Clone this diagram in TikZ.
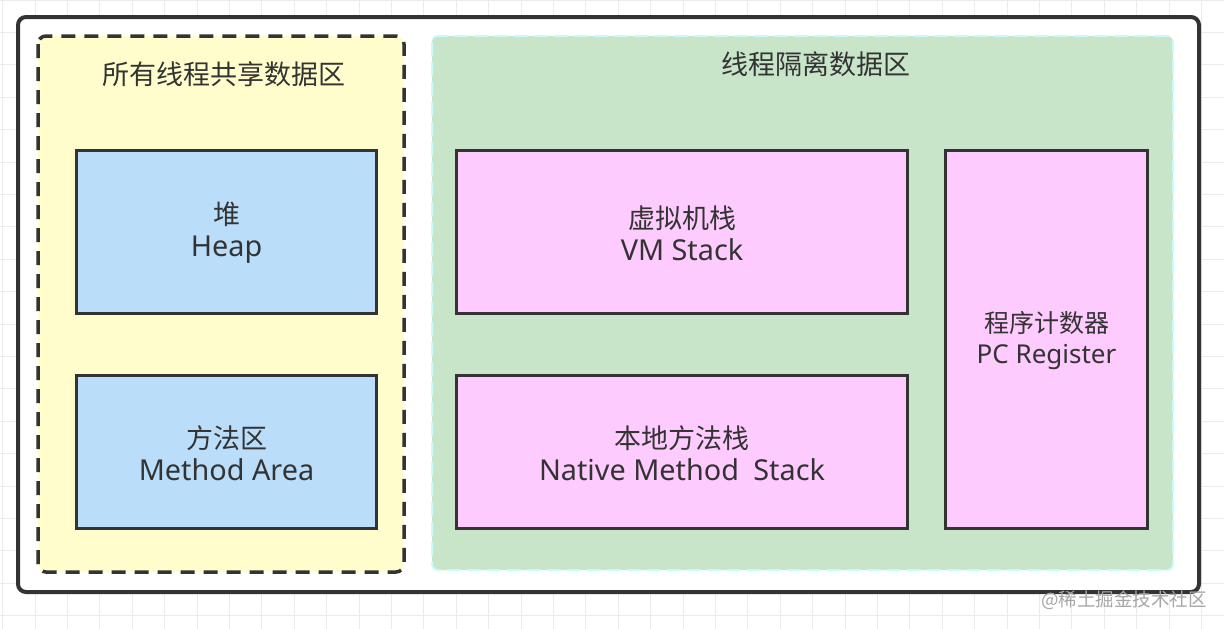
\documentclass[tikz,border=0pt]{standalone}
\usepackage{fontspec}
\setmainfont{Noto Sans CJK SC}
\newfontfamily\latinf{Noto Sans}
\newcommand{\latbig}{\latinf\fontsize{28.8}{32}\selectfont}
\newcommand{\latsmall}{\latinf\fontsize{26}{31}\selectfont}
\definecolor{gridc}{HTML}{EBEBEB}
\definecolor{edge}{HTML}{333333}
\definecolor{yel}{HTML}{FEFDCB}
\definecolor{grn}{HTML}{C8E5C9}
\definecolor{cyanb}{HTML}{C6FCF9}
\definecolor{blu}{HTML}{BADDFA}
\definecolor{pnk}{HTML}{FDCBFD}
\definecolor{txt}{HTML}{333333}
\tikzset{
  regionbox/.style={rounded corners=8pt},
  membox/.style={draw=edge, line width=3pt, anchor=north west, inner sep=0pt},
  lbl/.style={text=txt, font=\fontsize{27}{32}\selectfont, align=center},
  smalllbl/.style={text=txt, font=\fontsize{25}{31}\selectfont, align=center}
}
\begin{document}
\begin{tikzpicture}[x=1pt,y=-1pt]
\useasboundingbox (0,0) rectangle (1224,629);
\fill[white] (0,0) rectangle (1224,629);
% background grid
\foreach \i in {0,...,37} {
  \draw[gridc, line width=1pt] ({2.6+32.4*\i},0) -- ({2.6+32.4*\i},629);
}
\foreach \j in {0,...,19} {
  \draw[gridc, line width=1pt] (0,{32.4*\j}) -- (1224,{32.4*\j});
}
% outer frame
\draw[regionbox, draw=edge, fill=white, line width=4pt] (18,17) rectangle (1199,592);
% shared region
\draw[regionbox, draw=edge, fill=yel, line width=3.5pt, dash pattern=on 14pt off 9pt] (38,36) rectangle (404,572);
% isolated region
\draw[rounded corners=6pt, draw=cyanb, fill=grn, line width=2pt, dash pattern=on 14pt off 6pt] (432,36) rectangle (1173,570);
\node[lbl] (shared) at (224,74) {所有线程共享数据区};
\node[lbl] (isolated) at (816,64) {线程隔离数据区};
% memory boxes
\node[membox, fill=blu, minimum width=300pt, minimum height=163pt] (heap) at (75,149) {};
\node[lbl] (heapt) at ([yshift=-1pt]heap.center) {堆\\{\latbig Heap}};
\node[membox, fill=blu, minimum width=300pt, minimum height=153pt] (method) at (75,374) {};
\node[lbl] (methodt) at ([yshift=-1pt]method.center) {方法区\\{\latbig Method Area}};
\node[membox, fill=pnk, minimum width=451pt, minimum height=163pt] (vm) at (455,149) {};
\node[lbl] (vmt) at ([yshift=-1pt]vm.center) {虚拟机栈\\{\latbig VM Stack}};
\node[membox, fill=pnk, minimum width=451pt, minimum height=153pt] (native) at (455,374) {};
\node[lbl] (nativet) at ([yshift=-1pt]native.center) {本地方法栈\\{\latbig Native Method\hspace{0.5em}Stack}};
\node[membox, fill=pnk, minimum width=202pt, minimum height=378pt] (pc) at (944,149) {};
\node[smalllbl] (pct) at ([yshift=-1pt]pc.center) {程序计数器\\{\latsmall PC Register}};
% watermark
\node[text=black!35, font=\fontsize{18.5}{22}\selectfont] (wm) at (1124,600) {@稀土掘金技术社区};
\end{tikzpicture}
\end{document}
